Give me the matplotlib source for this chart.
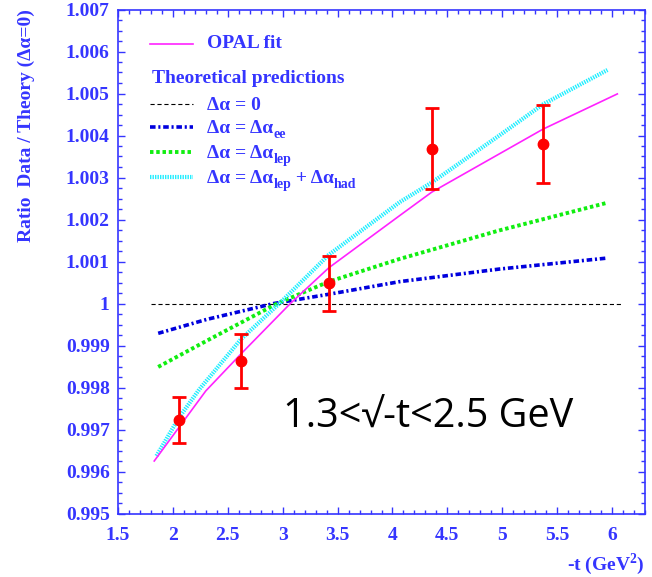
import matplotlib
matplotlib.use('Agg')
import matplotlib.pyplot as plt
from matplotlib.ticker import MultipleLocator
from matplotlib.transforms import offset_copy

plt.rcParams['font.family'] = ['Liberation Serif', 'DejaVu Serif']
plt.rcParams['font.weight'] = 'bold'
plt.rcParams['mathtext.fontset'] = 'custom'
plt.rcParams['mathtext.rm'] = 'Liberation Serif:bold'
plt.rcParams['lines.scale_dashes'] = False

blue = '#3535ff'

# data points
t_data = [2.055, 2.624, 3.42, 4.357, 5.37]
ratio_data = [0.99722, 0.99864, 1.00048, 1.00369, 1.00379]
ratio_err = [0.00055, 0.00064, 0.00065, 0.00097, 0.00093]

# OPAL fit
opal_t = [1.83, 2.055, 2.30, 2.624, 3.07, 3.42, 4.064, 4.357, 5.37, 6.048]
opal_r = [0.99625, 0.99705, 0.99792, 0.99881, 1.0000, 1.00085, 1.00209, 1.00265, 1.00415, 1.00499]

# theory: delta alpha = 0
zero_t = [1.80, 6.08]
zero_r = [1.0, 1.0]

# theory: delta alpha = delta alpha_ee
ee_t = [1.866, 2.306, 2.92, 3.42, 4.064, 4.973, 5.95]
ee_r = [0.99929, 0.99962, 1.0000, 1.00022, 1.00052, 1.00082, 1.00108]

# theory: delta alpha = delta alpha_lep
lep_t = [1.866, 2.306, 2.95, 3.42, 4.064, 4.973, 5.958]
lep_r = [0.99849, 0.99911, 1.0000, 1.00052, 1.00106, 1.00174, 1.00240]

# theory: delta alpha = lep + had
had_t = [1.85, 2.055, 2.239, 2.62, 2.97, 3.42, 4.064, 4.357, 4.973, 5.37, 5.958]
had_r = [0.99637, 0.99728, 0.99795, 0.99915, 1.0000, 1.00116, 1.00241, 1.00288, 1.00400, 1.00474, 1.00556]

fig = plt.figure(figsize=(6.52, 5.77), dpi=100)
ax = fig.add_axes([118/652, 1 - 513.5/577, 527/652, 504/577])

ax.plot(zero_t, zero_r, color='black', lw=0.8, linestyle=(0, (3, 2)))
ax.plot(ee_t, ee_r, color='#0000dd', lw=2.6, linestyle=(0, (4, 2, 1.5, 2)))
ax.plot(lep_t, lep_r, color='#11ee11', lw=2.8, linestyle=(0, (2.5, 2)))
ax.plot(had_t, had_r, color='#22eeff', lw=3.0, linestyle=(0, (1, 0.8)))
ax.plot(opal_t, opal_r, color='#ff22ff', lw=1.2)
ax.errorbar(t_data, ratio_data, yerr=ratio_err, fmt='o', color='#ff0000',
            ms=7.5, elinewidth=2, capsize=5, capthick=2)


def piece_text(x, y, pieces):
    # pieces: (text, fontsize, drop in points); placed one after another
    renderer = fig.canvas.get_renderer()
    dx = 0.0
    for s, size, drop in pieces:
        t = ax.text(x, y, s, color=blue, fontsize=size, va='baseline',
                    transform=offset_copy(ax.transAxes, fig=fig, x=dx, y=-drop, units='points'))
        w = t.get_window_extent(renderer).width * 72 / fig.dpi
        dx += w


# legend drawn by hand
tr = ax.transAxes
ax.plot([0.061, 0.142], [0.932, 0.932], color='#ff22ff', lw=1.2, transform=tr)
ax.text(0.169, 0.932, 'OPAL fit', color=blue, fontsize=14, va='center', transform=tr)
ax.text(0.065, 0.864, 'Theoretical predictions', color=blue, fontsize=14, va='center', transform=tr)
rows = [
    (0.8125, 'black', 0.8, (0, (3, 2)), [('Δα = 0', 14, 0)]),
    (0.767, '#0000dd', 2.6, (0, (4, 2, 1.5, 2)),
     [('Δα = Δα', 14, 0), ('ee', 10, 3.5)]),
    (0.717, '#11ee11', 2.8, (0, (2.5, 2)),
     [('Δα = Δα', 14, 0), ('lep', 10, 3.5)]),
    (0.668, '#22eeff', 3.0, (0, (1, 0.8)),
     [('Δα = Δα', 14, 0), ('lep', 10, 3.5), (' + Δα', 14, 0), ('had', 10, 3.5)]),
]
for yy, col, lw, ls, pieces in rows:
    ax.plot([0.061, 0.142], [yy, yy], color=col, lw=lw, linestyle=ls, transform=tr)
    piece_text(0.169, yy - 0.012, pieces)

ax.text(0.313, 0.19, '1.3<√-t<2.5 GeV', family=['Open Sans', 'DejaVu Sans'], fontweight='normal',
        fontsize=28.5, color='black', va='center', ha='left', transform=tr)

ax.set_xlim(1.5, 6.3)
ax.set_ylim(0.995, 1.007)
ax.xaxis.set_minor_locator(MultipleLocator(0.1))
ax.yaxis.set_minor_locator(MultipleLocator(0.00025))
ax.set_xticks([1.5, 2, 2.5, 3, 3.5, 4, 4.5, 5, 5.5, 6])
ax.set_xticklabels(['1.5', '2', '2.5', '3', '3.5', '4', '4.5', '5', '5.5', '6'])
yt = [0.995, 0.996, 0.997, 0.998, 0.999, 1.0, 1.001, 1.002, 1.003, 1.004, 1.005, 1.006, 1.007]
ax.set_yticks(yt)
ax.set_yticklabels(['0.995', '0.996', '0.997', '0.998', '0.999', '1', '1.001', '1.002',
                    '1.003', '1.004', '1.005', '1.006', '1.007'])
ax.tick_params(which='both', direction='in', top=True, right=True, color=blue,
               labelcolor=blue, labelsize=14, width=1)
ax.tick_params(which='major', length=5)
ax.tick_params(which='minor', length=3)
ax.tick_params(axis='x', pad=10)
ax.tick_params(axis='y', pad=6)
for s in ax.spines.values():
    s.set_color(blue)
    s.set_linewidth(1.2)

ax.set_ylabel('Ratio  Data / Theory (Δα=0)', color=blue, fontsize=14, fontweight='bold', loc='top')
ax.yaxis.set_label_coords(-0.157, 1.0)
ax.set_xlabel('-t (GeV$^{\\mathrm{2}}$)', color=blue, fontsize=14, fontweight='bold', loc='right')
ax.xaxis.set_label_coords(1.0, -0.075)

plt.savefig('out.png', dpi=100)
plt.close()
